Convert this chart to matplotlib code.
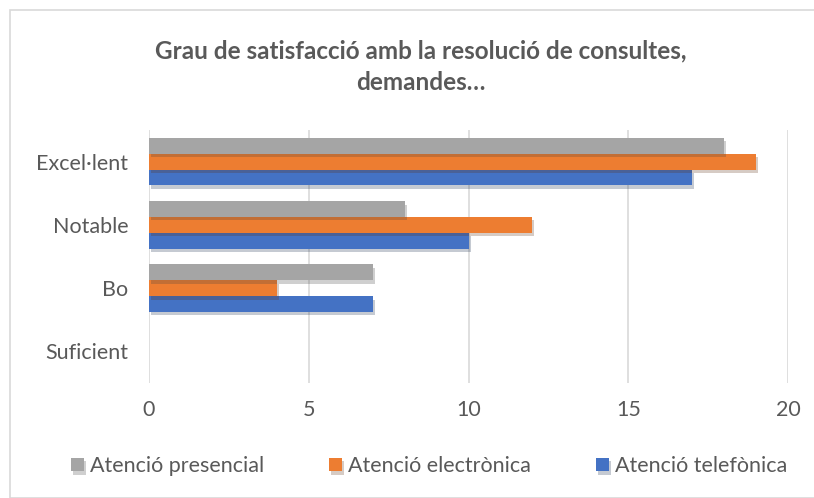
import numpy as np
import matplotlib.pyplot as plt
import matplotlib.patheffects as pe
from matplotlib.patches import Rectangle

plt.rcParams['font.family'] = ['Lato', 'DejaVu Sans']

categories = ['Suficient', 'Bo', 'Notable', 'Excel·lent']
telefonica = [0, 7, 10, 17]
electronica = [0, 4, 12, 19]
presencial = [0, 7, 8, 18]
series_names = ['Atenció telefònica', 'Atenció electrònica', 'Atenció presencial']
colors = ['#4472C4', '#ED7D31', '#A5A5A5']

fig = plt.figure(figsize=(8.14, 4.98), dpi=100)
ax = fig.add_axes([149 / 814, 1 - 383 / 498, (788 - 149) / 814, (383 - 130) / 498])

# outer frame like the Excel chart area
fig.patches.append(Rectangle((10 / 814, 0), 1, 1 - 10 / 498, transform=fig.transFigure,
                             fill=False, edgecolor='#D9D9D9', linewidth=1.2))

y = np.arange(len(categories))
h = 0.25
shadow = [pe.SimplePatchShadow(offset=(1.5, -2.5), alpha=0.25, rho=0.4), pe.Normal()]
bars = []
for i, (vals, c) in enumerate(zip([telefonica, electronica, presencial], colors)):
    b = ax.barh(y + (i - 1) * h, vals, height=h, color=c, zorder=3)
    for p in b:
        p.set_path_effects(shadow)
    bars.append(b)

ax.set_xlim(0, 20)
ax.set_ylim(-0.5, 3.5)
ax.set_xticks([0, 5, 10, 15, 20])
ax.set_yticks(y)
ax.set_yticklabels(categories)
ax.tick_params(length=0, labelsize=15.5, colors='#595959', pad=15)
ax.tick_params(axis='x', pad=12)
ax.grid(axis='x', color='#D9D9D9', linewidth=1.2, zorder=0)
for s in ax.spines.values():
    s.set_visible(False)

fig.text(421 / 814, 1 - 67 / 498, 'Grau de satisfacció amb la resolució de consultes,\ndemandes…',
         ha='center', va='center', fontsize=17.5, fontweight='bold', color='#595959',
         linespacing=1.45)

leg = fig.legend([bars[2], bars[1], bars[0]],
                 [series_names[2], series_names[1], series_names[0]],
                 loc='center', bbox_to_anchor=(0.527, 1 - 466 / 498), ncol=3, frameon=False,
                 fontsize=15.5, handlelength=0.6, handleheight=0.6, handletextpad=0.3,
                 columnspacing=3.0, labelcolor='#595959')

fig.savefig('out.png', dpi=100, facecolor='white')
